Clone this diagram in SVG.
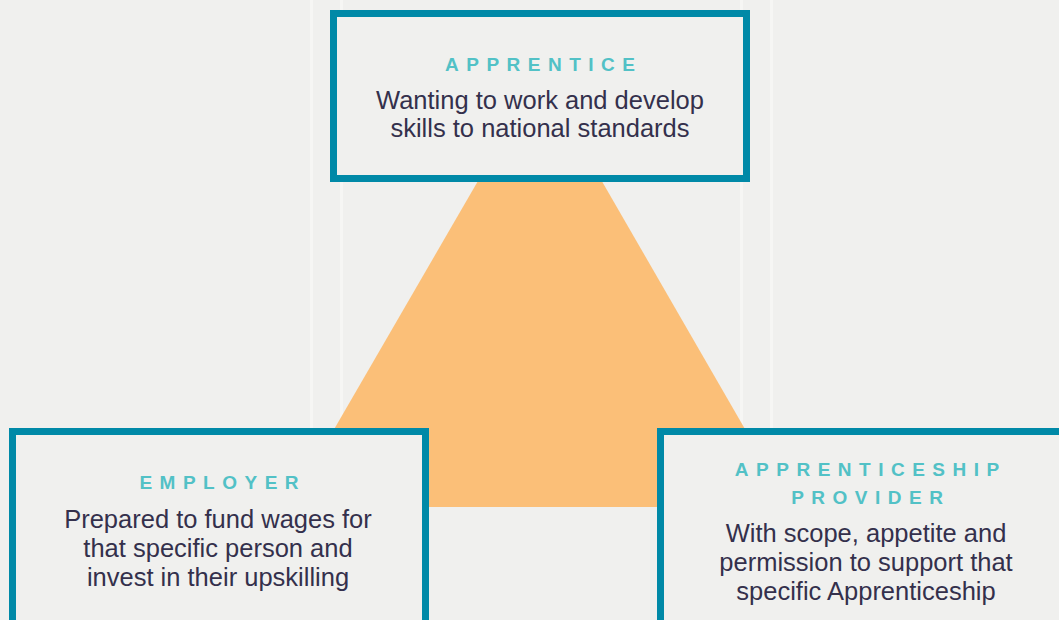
<svg xmlns="http://www.w3.org/2000/svg" width="1059" height="620" viewBox="0 0 1059 620">
  <style>
    .box { fill: #f0f0ee; stroke: #0089a7; stroke-width: 7; }
    .head { font-family: "Liberation Sans", Arial, sans-serif; font-weight: bold; font-size: 19px; letter-spacing: 7.5px; fill: #52c1c6; text-anchor: middle; }
    .body { font-family: "Liberation Sans", Arial, sans-serif; font-size: 25.5px; fill: #34304c; text-anchor: middle; }
    .guide { fill: #f6f6f4; }
  </style>
  <rect x="0" y="0" width="1059" height="620" fill="#f0f0ee"/>
  <g id="guides">
    <rect class="guide" x="310" y="0" width="3" height="620"/>
    <rect class="guide" x="340" y="0" width="3" height="620"/>
    <rect class="guide" x="740" y="0" width="3" height="620"/>
    <rect class="guide" x="770" y="0" width="3" height="620"/>
  </g>
  <g id="connectors">
    <polygon points="540,74 289,507 790,507" fill="#fbbf78"/>
  </g>
  <g id="apprentice">
    <rect class="box" x="333.5" y="13.5" width="413" height="165"/>
    <text class="head" x="543.75" y="71">APPRENTICE</text>
    <text class="body" x="540" y="109">Wanting to work and develop</text>
    <text class="body" x="540" y="137">skills to national standards</text>
  </g>
  <g id="employer">
    <rect class="box" x="12.5" y="431.5" width="413" height="220"/>
    <text class="head" x="222.75" y="489">EMPLOYER</text>
    <text class="body" x="218" y="528">Prepared to fund wages for</text>
    <text class="body" x="218" y="557">that specific person and</text>
    <text class="body" x="218" y="586">invest in their upskilling</text>
  </g>
  <g id="provider">
    <rect class="box" x="660.5" y="431.5" width="440" height="220"/>
    <text class="head" x="870.75" y="476">APPRENTICESHIP</text>
    <text class="head" x="870.75" y="504">PROVIDER</text>
    <text class="body" x="866" y="542">With scope, appetite and</text>
    <text class="body" x="866" y="571">permission to support that</text>
    <text class="body" x="866" y="600">specific Apprenticeship</text>
  </g>
</svg>
